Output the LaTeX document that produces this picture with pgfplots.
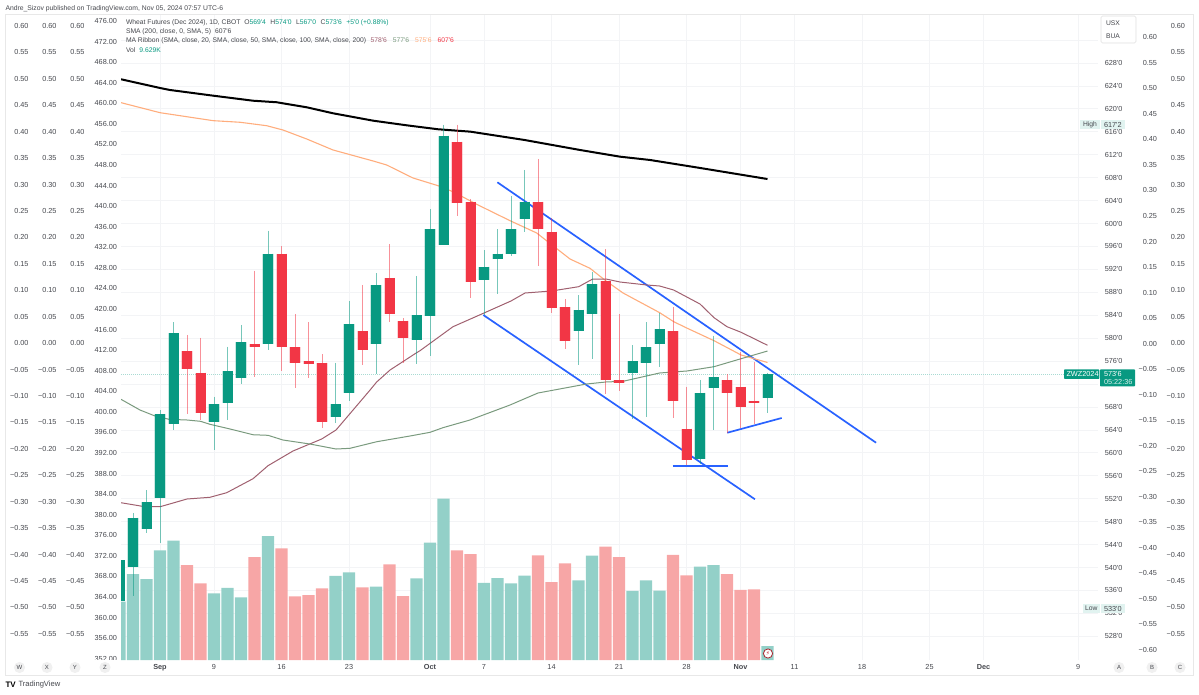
\documentclass[border=0pt]{standalone}
\usepackage{pgfplots}
\usepackage{pgfplotstable}
\usepackage{fontspec}
\pgfplotsset{compat=1.18}
\setmainfont[Ligatures=TeXOff]{Liberation Sans}
\newfontfamily\symb{DejaVu Sans}
\definecolor{tvg}{HTML}{089981}
\definecolor{tvr}{HTML}{F23645}
\definecolor{volg}{HTML}{93D0C8}
\definecolor{volr}{HTML}{F7A6A6}
\definecolor{ma20}{HTML}{A0606F}
\definecolor{ma50}{HTML}{7A9A7E}
\definecolor{ma100}{HTML}{FFAD7D}
\definecolor{tblue}{HTML}{2962FF}
\definecolor{txt}{HTML}{45474D}
\definecolor{gridc}{HTML}{F3F4F6}
\newcommand\fs{\fontsize{7.3}{8}\selectfont}
\newcommand\fl{\fontsize{6.75}{8}\selectfont}

% i  top  bot  hi  lo  (prices in cents)
\pgfplotstableread{
i top bot hi lo
-3 541.31 534.16 541.31 534.16
-2 548.69 540.14 549.51 535.03
-1 551.37 546.72 553.52 546.07
0 566.78 552.17 567.47 544.33
1 580.85 564.98 582.77 563.99
4 568.47 565.38 569.79 560.50
5 574.28 568.69 578.51 565.73
6 579.28 573.00 582.30 572.01
8 594.74 578.99 598.75 577.94
13 568.47 566.20 575.72 565.26
14 582.47 570.49 586.49 569.04
16 589.28 578.99 591.32 573.81
19 583.99 579.74 590.85 575.55
20 599.04 583.92 602.53 576.95
21 615.32 596.25 617.25 596.25
24 592.47 590.20 595.38 584.04
25 594.74 593.76 599.04 587.66
26 599.04 594.68 604.80 594.34
27 603.81 600.79 609.34 598.57
31 584.97 581.25 587.53 575.32
32 589.45 584.27 591.60 576.32
35 576.02 573.93 578.76 565.85
36 578.46 575.72 582.77 566.31
37 581.55 578.99 584.34 575.03
40 570.49 558.98 572.71 558.05
41 573.18 571.26 580.43 563.99
45 573.75 569.50 574.00 567.00
}\upbars
\pgfplotstableread{
i top bot hi lo
2 577.71 574.68 580.56 566.78
3 573.98 566.90 580.09 565.73
7 578.99 578.41 591.77 573.28
9 594.74 578.46 596.08 574.28
10 578.46 575.72 584.22 571.31
11 575.97 575.58 582.82 573.11
12 575.72 565.43 577.24 564.33
15 581.25 577.94 589.28 575.32
17 590.50 584.22 596.38 582.82
18 583.05 580.03 583.47 575.62
22 614.27 603.53 617.25 601.31
23 603.81 589.75 604.28 587.06
28 603.81 599.04 611.26 592.59
29 598.57 585.27 600.91 584.34
30 585.44 579.51 586.84 578.06
33 590.03 572.76 595.50 570.26
34 572.71 572.23 584.22 570.84
38 581.25 568.99 585.39 566.03
39 564.21 558.75 571.54 557.88
42 572.71 570.49 573.75 563.51
43 571.49 568.00 577.64 564.28
44 568.99 568.69 575.90 565.03
}\downbars

\pgfplotsset{
  panel/.style={at={(121pt,34pt)},anchor=south west,scale only axis,width=977pt,height=645pt,
    xmin=-2.889,xmax=69.48},
  lab/.style={scale only axis,width=1pt,height=645pt,hide x axis,xmin=0,xmax=1,clip=false,
    axis y line*=#1,axis line style={draw=none},major tick length=0pt,ytick style={draw=none},
    y tick label style={font=\fs,text=txt,inner sep=0pt,outer sep=0pt}},
  vals/.style={ytick={0.6,0.55,0.5,0.45,0.4,0.35,0.3,0.25,0.2,0.15,0.1,0.05,0,-0.05,-0.1,-0.15,-0.2,-0.25,-0.3,-0.35,-0.4,-0.45,-0.5,-0.55},
    yticklabels={0.60,0.55,0.50,0.45,0.40,0.35,0.30,0.25,0.20,0.15,0.10,0.05,0.00,−0.05,−0.10,−0.15,−0.20,−0.25,−0.30,−0.35,−0.40,−0.45,−0.50,−0.55}},
  colA/.style={lab=left,vals,ymin=-0.5994,ymax=0.6208,y tick label style={anchor=east}},
}
\newcommand\candles[2]{%
  \addplot[draw=none,mark=none,forget plot,error bars/.cd,y dir=minus,y explicit,error mark=none,
    error bar style={line width=1pt,draw=#2,draw opacity=.55}]
    table[x=i,y=hi,y error minus expr=\thisrow{hi}-\thisrow{lo}]{#1};
  \addplot[draw=none,mark=none,forget plot,error bars/.cd,y dir=minus,y explicit,error mark=none,
    error bar style={line width=11.4pt,draw=#2,draw opacity=.22}]
    table[x=i,y=top,y error minus expr=\thisrow{top}-\thisrow{bot}]{#1};
  \addplot[draw=none,mark=none,forget plot,error bars/.cd,y dir=minus,y explicit,error mark=none,
    error bar style={line width=10pt,draw=#2}]
    table[x=i,y=top,y error minus expr=\thisrow{top}-\thisrow{bot}]{#1};
}

\begin{document}
\begin{tikzpicture}
\useasboundingbox (0pt,0pt) rectangle (1199pt,694pt);

\begin{scope}[x=1pt,y=-1pt,yshift=694pt]
  \draw[color=gray!18,line width=.8pt] (5,14) rectangle (1193,675);
\end{scope}

% scales at the left and the right
\begin{axis}[colA,at={(28.5pt,34pt)},anchor=south west]\end{axis}
\begin{axis}[colA,at={(56.5pt,34pt)},anchor=south west]\end{axis}
\begin{axis}[colA,at={(84.5pt,34pt)},anchor=south west]\end{axis}
\begin{axis}[lab=left,at={(117pt,34pt)},anchor=south west,ymin=351.75,ymax=477.17,
  ytick={352,356,...,476},y tick label style={anchor=east,/pgf/number format/.cd,fixed,fixed zerofill,precision=2,assume math mode=true,1000 sep={}}]\end{axis}
\begin{axis}[colA,at={(1185pt,34pt)},anchor=south west]\end{axis}
\begin{axis}[lab=left,at={(1157pt,34pt)},anchor=south west,ymin=-0.6196,ymax=0.6437,
  y tick label style={anchor=east},
  ytick={0.6,0.55,0.5,0.45,0.4,0.35,0.3,0.25,0.2,0.15,0.1,0.05,0,-0.05,-0.1,-0.15,-0.2,-0.25,-0.3,-0.35,-0.4,-0.45,-0.5,-0.55,-0.6},
  yticklabels={0.60,0.55,0.50,0.45,0.40,0.35,0.30,0.25,0.20,0.15,0.10,0.05,0.00,−0.05,−0.10,−0.15,−0.20,−0.25,−0.30,−0.35,−0.40,−0.45,−0.50,−0.55,−0.60}]\end{axis}
\begin{axis}[lab=left,at={(1122.5pt,34pt)},anchor=south west,ymin=523.87,ymax=636.37,
  y tick label style={anchor=east},
  ytick={528,532,536,540,544,548,552,556,560,564,568,576,580,584,588,592,596,600,604,608,612,616,620,624,628},
  yticklabels={528'0,532'0,536'0,540'0,544'0,548'0,552'0,556'0,560'0,564'0,568'0,576'0,580'0,584'0,588'0,592'0,596'0,600'0,604'0,608'0,612'0,616'0,620'0,624'0,628'0}]\end{axis}

% grid and dates
\begin{axis}[panel,ymin=523.87,ymax=636.37,axis line style={draw=none},major tick length=0pt,
  xtick={0,4,9,14,20,24,29,34,39,43,47,52,57,61,68},
  xticklabels={\textbf{Sep},9,16,23,\textbf{Oct},7,14,21,28,\textbf{Nov},11,18,25,\textbf{Dec},9},
  ytick={528,532,...,632},yticklabels={},
  grid=major,grid style={draw=gridc,line width=.8pt},
  x tick label style={font=\fs,text=txt,inner sep=0pt,yshift=-4.6pt}]
\end{axis}

% volume, in thousands
\begin{axis}[panel,hide axis,ymin=0,ymax=443.76,ybar,bar width=12.4pt,bar shift=0pt]
\addplot[draw=none,fill=volg] coordinates {(-3,40.1)(-2,59.0)(-1,55.7)(0,75.5)(1,82.1)(4,45.9)(5,49.7)(6,43.1)(8,85.3)(13,57.8)(14,60.3)(16,50.4)(19,56.2)(20,80.7)(21,111.0)(24,53.0)(25,56.4)(26,52.8)(27,58.0)(31,54.8)(32,71.8)(35,47.5)(36,54.8)(37,47.7)(40,64.2)(41,65.2)(45,9.629)};
\addplot[draw=none,fill=volr] coordinates {(2,65.2)(3,52.8)(7,70.7)(9,76.8)(10,43.8)(11,44.7)(12,49.3)(15,50.0)(17,65.8)(18,44.0)(22,75.5)(23,72.9)(28,72.0)(29,53.5)(30,66.5)(33,78.0)(34,70.7)(38,72.4)(39,58.3)(42,59.0)(43,48.2)(44,48.6)};
\end{axis}

% prices
\begin{axis}[panel,hide axis,ymin=523.87,ymax=636.37]
\addplot[draw=tvg!35,line width=1pt,dash pattern=on 1pt off 1pt,forget plot] coordinates {(-2.889,573.75)(67,573.75)};
% trend lines
\addplot[tblue,line width=1.7pt] coordinates {(24.99,607.19)(53.04,561.77)};
\addplot[tblue,line width=1.7pt] coordinates {(23.95,584.04)(44.07,551.90)};
\addplot[tblue,line width=1.7pt] coordinates {(37.98,557.76)(42.05,557.76)};
\addplot[tblue,line width=1.7pt] coordinates {(42.02,563.51)(46.05,566.08)};
% SMA 200 offset line
\addplot[black,line width=2pt,line join=round] coordinates {(-2.89,625.16)(0,623.64)(0.74,623.29)(3.93,622.30)(6.89,621.42)(8.64,621.15)(10.87,620.27)(12.81,619.23)(15.78,617.94)(18.27,617.13)(20.59,616.44)(23,616.02)(27,614.57)(31.1,612.83)(34.07,611.66)(36.3,611.08)(40,609.69)(45,607.76)};
% ribbon 100
\addplot[ma100,line width=1.1pt,line join=round] coordinates {(-2.89,621.08)(0,619.33)(1.98,618.63)(3.93,617.94)(5.93,617.66)(7.9,617.06)(9.11,616.31)(10.87,614.74)(12.81,612.83)(15.78,610.91)(16.79,610.21)(18.74,607.94)(20.59,606.60)(21.7,605.55)(23.46,603.35)(25.93,600.49)(27.9,598.35)(30.37,593.81)(31.85,592.19)(33.01,590.03)(34.3,587.88)(37.01,584.45)(38.05,582.88)(39.01,581.78)(41.04,579.56)(43.04,577.07)(45,575.76)};
% ribbon 20
\addplot[ma20,line width=1pt,line join=round] coordinates {(-2.89,551.30)(-1.11,550.60)(0,550.60)(2,551.95)(3.7,552.25)(4.94,553.05)(6.89,555.49)(8,557.76)(9.85,560.32)(11.98,562.42)(13.04,563.99)(14.3,567.47)(15.56,570.96)(16.05,572.36)(17.04,574.45)(19.01,577.47)(19.26,577.82)(21.7,582.00)(24,584.39)(26,586.49)(27.04,587.88)(29.01,588.23)(31.01,588.98)(32.05,590.32)(33.04,590.32)(34.07,589.80)(36.05,589.28)(37.01,589.10)(38.05,588.40)(40,585.96)(41.04,583.57)(42,582.00)(43.04,581.03)(45,578.76)};
% ribbon 50
\addplot[ma50,line width=1pt,line join=round] coordinates {(-2.89,569.34)(-1.48,567.47)(-0.37,566.43)(0.67,565.85)(2,565.73)(3.01,565.50)(3.7,564.98)(5.19,564.16)(6.89,563.16)(8,563.06)(9.11,562.24)(11.11,561.54)(13.04,560.67)(14.07,560.79)(16.05,561.94)(18.52,562.94)(20,563.58)(20.96,564.39)(22.96,565.73)(25.93,568.35)(28,570.44)(31.6,572.01)(33.04,572.36)(34.3,572.48)(37.01,573.93)(39.04,574.28)(41.04,575.03)(43.04,576.42)(45,577.76)};
\candles{\upbars}{tvg}
\candles{\downbars}{tvr}
\end{axis}

\begin{scope}[x=1pt,y=-1pt,yshift=694pt,every node/.style={inner sep=0pt,outer sep=0pt,font=\fl,text=txt}]
  \fill[white] (92,660) rectangle (118,667);
  % top caption and legend
  \node[anchor=west,font=\fontsize{6.8}{8}\selectfont] at (5.5,8.5) {Andre\_Sizov published on TradingView.com, Nov 05, 2024 07:57 UTC-6};
  \node[anchor=west] at (126,23.2) {Wheat Futures (Dec 2024), 1D, CBOT\hspace{4pt}O\textcolor{tvg}{569'4}\hspace{4.5pt}H\textcolor{tvg}{574'0}\hspace{4.5pt}L\textcolor{tvg}{567'0}\hspace{4.5pt}C\textcolor{tvg}{573'6}\hspace{4.5pt}\textcolor{tvg}{+5'0 (+0.88\%)}};
  \node[anchor=west] at (126,32) {SMA (200, close, 0, SMA, 5)\hspace{4pt}607'6};
  \node[anchor=west] at (126,41) {MA Ribbon (SMA, close, 20, SMA, close, 50, SMA, close, 100, SMA, close, 200)\hspace{4.5pt}\textcolor{ma20}{578'6}\hspace{6pt}\textcolor{ma50}{577'6}\hspace{6pt}\textcolor{ma100}{575'6}\hspace{6pt}\textcolor{tvr}{607'6}};
  \node[anchor=west] at (126,50) {Vol\hspace{4pt}\textcolor{tvg}{9.629K}};
  % symbols box
  \draw[gray!25,fill=white,rounded corners=1.5pt,line width=.6pt] (1101,16) rectangle (1136,43);
  \node[anchor=west] at (1106,23.5) {USX};
  \node[anchor=west] at (1106,36.5) {BUA};
  % High and Low tags
  \fill[tvg!12] (1080,120) rectangle (1099.5,129.5);
  \fill[tvg!12] (1100.5,120) rectangle (1125,129.5);
  \node[anchor=west] at (1083,124.7) {High};
  \node[anchor=west,font=\fs] at (1104,124.7) {617'2};
  \fill[tvg!12] (1083,604) rectangle (1099.5,613);
  \fill[tvg!12] (1100.5,604) rectangle (1125,613);
  \node[anchor=west] at (1085,608.5) {Low};
  \node[anchor=west,font=\fs] at (1104,608.5) {533'0};
  % last price tags
  \fill[tvg,rounded corners=.8pt] (1064,369.3) rectangle (1099.3,379);
  \fill[tvg,rounded corners=.8pt] (1100,369.3) rectangle (1135,386.5);
  \node[anchor=west,text=white,font=\fs] at (1066.5,374.2) {ZWZ2024};
  \node[anchor=west,text=white,font=\fs] at (1104,374) {573'6};
  \node[anchor=west,text=white!85!tvg,font=\fs] at (1104,382) {05:22:36};
  % lightning badge
  \draw[tvr!70!black,fill=white,line width=.8pt] (768,653.5) circle (4.6);
  \node[text=tvr!80!black,font=\symb\fontsize{6}{6}\selectfont] at (768,653.5) {⚡};
  % letter badges
  \foreach \x/\l in {19.5/W,47/X,75/Y,105/Z,1119/A,1152/B,1180/C}{
    \fill[gray!12] (\x,667.5) circle (5.6);
    \node[font=\fontsize{6}{6}\selectfont] at (\x,667.5) {\l};
  }
  % logo line
  \node[anchor=west,text=black,font=\bfseries\fontsize{8}{8}\selectfont] at (5.5,684.5) {TV};
  \node[anchor=west,font=\fontsize{7.6}{8}\selectfont] at (18.5,685) {TradingView};
\end{scope}
\end{tikzpicture}
\end{document}
